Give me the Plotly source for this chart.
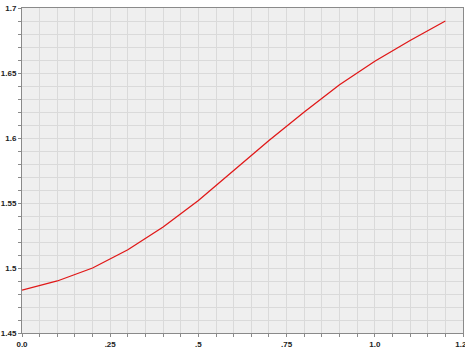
import plotly.graph_objects as go

# Series values
x_vals = [0.0, 0.1, 0.2, 0.3, 0.4, 0.5, 0.6, 0.7, 0.8, 0.9, 1.0, 1.1, 1.2]
y_vals = [1.483, 1.490, 1.500, 1.514, 1.5315, 1.552, 1.575, 1.598, 1.620, 1.641, 1.659, 1.675, 1.690]

# Tick labels
x_tickvals = [0.0, 0.25, 0.5, 0.75, 1.0, 1.25]
x_ticktext = ["0.0", ".25", ".5", ".75", "1.0", "1.25"]
y_tickvals = [1.45, 1.5, 1.55, 1.6, 1.65, 1.7]
y_ticktext = ["1.45", "1.5", "1.55", "1.6", "1.65", "1.7"]

grid_col = "#dadada"
axis_col = "#8a8a8a"
tick_font = dict(family="Liberation Sans", size=8, color="#222222", weight="bold")

fig = go.Figure(go.Scatter(
    x=x_vals, y=y_vals, mode="lines",
    line=dict(color="#e01818", width=1.3),
    hoverinfo="skip",
))

fig.update_layout(
    width=465, height=349,
    margin=dict(l=22, r=2, t=8, b=16, autoexpand=False),
    paper_bgcolor="white",
    plot_bgcolor="#efefef",
    showlegend=False,
)

fig.update_xaxes(
    range=[0, 1.25],
    tickvals=x_tickvals, ticktext=x_ticktext,
    ticks="outside", ticklen=3, tickcolor=axis_col,
    showgrid=True, gridcolor=grid_col, gridwidth=1,
    minor=dict(dtick=0.05, tick0=0, ticks="outside", ticklen=3,
               tickcolor=axis_col, showgrid=True, gridcolor=grid_col),
    showline=True, linecolor=axis_col, linewidth=1, mirror=True,
    zeroline=False, tickfont=tick_font, tickangle=0,
    ticklabeloverflow="allow", automargin=False,
)
fig.update_yaxes(
    range=[1.45, 1.7],
    tickvals=y_tickvals, ticktext=y_ticktext,
    ticks="outside", ticklen=3, tickcolor=axis_col,
    showgrid=True, gridcolor=grid_col, gridwidth=1,
    minor=dict(dtick=0.01, tick0=1.45, ticks="outside", ticklen=3,
               tickcolor=axis_col, showgrid=True, gridcolor=grid_col),
    showline=True, linecolor=axis_col, linewidth=1, mirror=True,
    zeroline=False, tickfont=tick_font, ticklabelstandoff=0,
    ticklabeloverflow="allow", automargin=False,
)

fig.write_html("out.html")
